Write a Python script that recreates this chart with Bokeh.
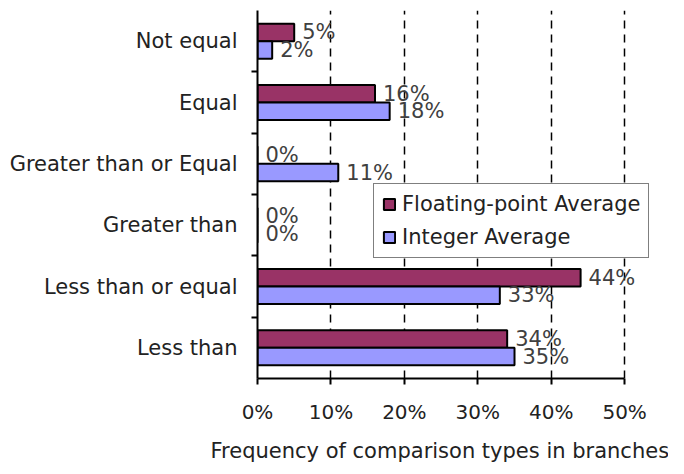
from bokeh.plotting import figure
from bokeh.models import ColumnDataSource, FixedTicker, PrintfTickFormatter, Range1d, Title
from bokeh.core.properties import value
from bokeh.embed import file_html
from bokeh.resources import INLINE

categories = ["Not equal", "Equal", "Greater than or Equal", "Greater than",
              "Less than or equal", "Less than"]
floating_avg = [5, 16, 0, 0, 44, 34]
integer_avg = [2, 18, 11, 0, 33, 35]
x_ticks = [0, 10, 20, 30, 40, 50]
x_label = "Frequency of comparison types in branches"

FONT = "DejaVu Sans"
n = len(categories)
centers = [n - 0.5 - i for i in range(n)]
bar_h = 0.285

src_f = ColumnDataSource(dict(y=[c + bar_h / 2 for c in centers], v=floating_avg,
                              lab=[f"{v}%" for v in floating_avg]))
src_i = ColumnDataSource(dict(y=[c - bar_h / 2 for c in centers], v=integer_avg,
                              lab=[f"{v}%" for v in integer_avg]))

p = figure(frame_width=398, frame_height=368, output_backend="svg", toolbar_location=None,
           x_range=Range1d(0, 54.2), y_range=Range1d(0, n),
           min_border_left=257, min_border_right=13, min_border_top=10, min_border_bottom=0)
p.outline_line_color = None
p.background_fill_color = "white"
p.border_fill_color = "white"

p.hbar(y="y", right="v", left=0, height=bar_h, source=src_f, fill_color="#993366",
       line_color="black", line_width=2, legend_label="Floating-point Average")
p.hbar(y="y", right="v", left=0, height=bar_h, source=src_i, fill_color="#9999FF",
       line_color="black", line_width=2, legend_label="Integer Average")

for src in (src_f, src_i):
    p.text(x="v", y="y", text="lab", source=src, x_offset=8, text_align="left",
           text_baseline="middle", text_font=value(FONT), text_font_size="21px",
           text_color="#404040")

# x axis
p.xaxis.ticker = FixedTicker(ticks=x_ticks)
p.xaxis.bounds = (x_ticks[0], x_ticks[-1])
p.xaxis.formatter = PrintfTickFormatter(format="%d%%")
p.xaxis.major_label_text_font = FONT
p.xaxis.major_label_text_font_size = "20px"
p.xaxis.major_label_text_color = "#222222"
p.xaxis.major_label_standoff = 15
p.xaxis.major_tick_in = 0
p.xaxis.major_tick_out = 6
p.xaxis.major_tick_line_width = 2
p.xaxis.minor_tick_line_color = None
p.xaxis.axis_line_width = 2

xt = Title(text=x_label, align="left", offset=-47, standoff=21,
           text_font=FONT, text_font_size="21px", text_font_style="normal",
           text_color="#222222")
p.add_layout(xt, "below")

# y axis
p.yaxis.ticker = FixedTicker(ticks=centers, minor_ticks=list(range(1, n)))
p.yaxis.major_label_overrides = {c: cat for c, cat in zip(centers, categories)}
p.yaxis.major_tick_line_color = None
p.yaxis.major_tick_in = 0
p.yaxis.major_tick_out = 0
p.yaxis.minor_tick_in = 0
p.yaxis.minor_tick_out = 6
p.yaxis.minor_tick_line_color = "black"
p.yaxis.minor_tick_line_width = 2
p.yaxis.major_label_standoff = 14
p.yaxis.major_label_text_font = FONT
p.yaxis.major_label_text_font_size = "21px"
p.yaxis.major_label_text_color = "#222222"
p.yaxis.axis_line_width = 2

p.xgrid.ticker = FixedTicker(ticks=x_ticks[1:])
p.xgrid.grid_line_color = "black"
p.xgrid.grid_line_dash = "8 6"
p.xgrid.grid_line_width = 1.5
p.ygrid.grid_line_color = None

lg = p.legend[0]
lg.location = (116, 120)
lg.border_line_color = "black"
lg.border_line_width = 1.5
lg.background_fill_alpha = 1
lg.label_text_font = FONT
lg.label_text_font_size = "21px"
lg.label_text_color = "#222222"
lg.glyph_width = 14
lg.glyph_height = 14
lg.padding = 8
lg.spacing = 9
lg.margin = 0
lg.label_standoff = 6

open("out.html", "w").write(file_html(p, INLINE))
